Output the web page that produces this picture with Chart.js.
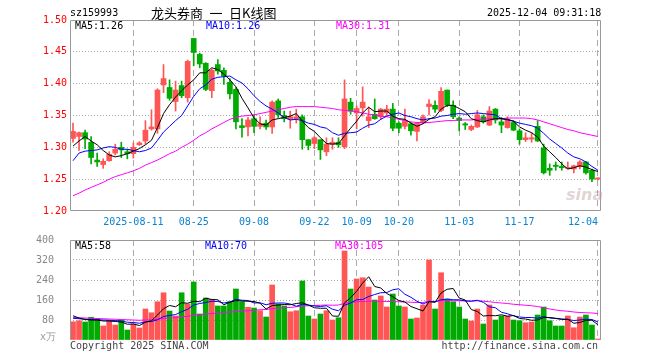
<!DOCTYPE html>
<html>
<head>
<meta charset="utf-8">
<title>龙头券商 日K线图</title>
<script src="https://cdn.jsdelivr.net/npm/chart.js@4.4.1/dist/chart.umd.min.js"></script>
<style>
  body { margin: 0; background: #fff; }
  #wrap { position: relative; width: 660px; height: 360px; overflow: hidden;
          font-family: 'DejaVu Sans Mono', monospace; font-size: 10px; color: #000; }
  #wrap canvas { position: absolute; left: 0; }
  .txt { position: absolute; white-space: pre; line-height: 12px; }
</style>
</head>
<body>
<div id="wrap">
  <canvas id="priceChart" width="660" height="230" style="top:0"></canvas>
  <canvas id="volumeChart" width="660" height="120" style="top:230px"></canvas>

  <div class="txt" style="left:70px;top:7px">sz159993</div>
  <div class="txt" style="left:151px;top:4px;font-family:'Noto Sans CJK SC',sans-serif;font-size:13px;line-height:18px">龙头券商&ensp;一&ensp;日K线图</div>
  <div class="txt" style="left:487px;top:7px">2025-12-04 09:31:18</div>

  <div class="txt" style="left:75px;top:20px">MA5:1.26</div>
  <div class="txt" style="left:206px;top:20px;color:#0000ff">MA10:1.26</div>
  <div class="txt" style="left:336px;top:20px;color:#ff00ff">MA30:1.31</div>

  <div class="txt" style="left:75px;top:240px">MA5:58</div>
  <div class="txt" style="left:205px;top:240px;color:#0000ff">MA10:70</div>
  <div class="txt" style="left:335px;top:240px;color:#ff00ff">MA30:105</div>

  <div class="txt" style="left:40px;top:331px;color:#999">x万</div>
  <div class="txt" style="left:70px;top:340px;color:#444">Copyright 2025 SINA.COM</div>
  <div class="txt" style="right:62px;top:340px;color:#444">http://finance.sina.com.cn</div>
  <div class="txt" style="left:566px;top:186px;font-family:'DejaVu Sans',sans-serif;font-size:16px;line-height:18px;font-style:italic;font-weight:bold;color:rgba(190,160,160,0.45)">sina</div>
</div>

<script>
// trading days shown (2025-07-28 .. 2025-12-04)
const dates = [
  '2025-07-28','2025-07-29','2025-07-30','2025-07-31','2025-08-01','2025-08-04','2025-08-05','2025-08-06','2025-08-07','2025-08-08',
  '2025-08-11','2025-08-12','2025-08-13','2025-08-14','2025-08-15','2025-08-18','2025-08-19','2025-08-20','2025-08-21','2025-08-22',
  '2025-08-25','2025-08-26','2025-08-27','2025-08-28','2025-08-29','2025-09-01','2025-09-02','2025-09-03','2025-09-04','2025-09-05',
  '2025-09-08','2025-09-09','2025-09-10','2025-09-11','2025-09-12','2025-09-15','2025-09-16','2025-09-17','2025-09-18','2025-09-19',
  '2025-09-22','2025-09-23','2025-09-24','2025-09-25','2025-09-26','2025-09-29','2025-09-30','2025-10-09','2025-10-10','2025-10-13',
  '2025-10-14','2025-10-15','2025-10-16','2025-10-17','2025-10-20','2025-10-21','2025-10-22','2025-10-23','2025-10-24','2025-10-27',
  '2025-10-28','2025-10-29','2025-10-30','2025-10-31','2025-11-03','2025-11-04','2025-11-05','2025-11-06','2025-11-07','2025-11-10',
  '2025-11-11','2025-11-12','2025-11-13','2025-11-14','2025-11-17','2025-11-18','2025-11-19','2025-11-20','2025-11-21','2025-11-24',
  '2025-11-25','2025-11-26','2025-11-27','2025-11-28','2025-12-01','2025-12-02','2025-12-03','2025-12-04'
];

const opens = [
  1.314,1.317,1.323,1.308,1.280,1.273,1.279,1.291,1.300,1.293,
  1.290,1.304,1.310,1.329,1.329,1.398,1.394,1.372,1.397,1.378,
  1.471,1.446,1.432,1.389,1.430,1.421,1.402,1.391,1.334,1.332,
  1.345,1.333,1.338,1.332,1.373,1.350,1.344,1.345,1.348,1.312,
  1.306,1.312,1.293,1.305,1.308,1.301,1.371,1.354,1.362,1.342,
  1.352,1.348,1.354,1.360,1.338,1.333,1.337,1.325,1.338,1.364,
  1.366,1.358,1.390,1.366,1.346,1.337,1.328,1.332,1.348,1.335,
  1.360,1.340,1.331,1.339,1.326,1.312,1.313,1.333,1.299,1.267,
  1.272,1.270,1.267,1.266,1.270,1.277,1.264,1.250
];
const highs = [
  1.338,1.324,1.327,1.317,1.291,1.282,1.293,1.305,1.308,1.297,
  1.307,1.309,1.342,1.359,1.392,1.430,1.406,1.404,1.404,1.437,
  1.471,1.448,1.433,1.423,1.438,1.425,1.408,1.394,1.345,1.347,
  1.351,1.348,1.343,1.373,1.376,1.357,1.357,1.360,1.351,1.312,
  1.317,1.312,1.315,1.315,1.315,1.406,1.377,1.365,1.395,1.363,
  1.376,1.361,1.366,1.369,1.340,1.360,1.339,1.339,1.351,1.375,
  1.373,1.394,1.390,1.373,1.348,1.339,1.335,1.358,1.351,1.364,
  1.361,1.347,1.348,1.342,1.329,1.323,1.323,1.342,1.305,1.274,
  1.277,1.277,1.277,1.272,1.279,1.278,1.266,1.252
];
const lows = [
  1.308,1.295,1.298,1.274,1.270,1.267,1.278,1.288,1.284,1.282,
  1.283,1.303,1.305,1.327,1.322,1.386,1.374,1.357,1.378,1.371,
  1.428,1.425,1.389,1.378,1.415,1.399,1.376,1.329,1.316,1.318,
  1.323,1.329,1.328,1.322,1.347,1.340,1.330,1.338,1.297,1.296,
  1.298,1.281,1.287,1.297,1.300,1.298,1.352,1.329,1.349,1.331,
  1.344,1.344,1.350,1.326,1.323,1.329,1.319,1.310,1.337,1.351,
  1.355,1.356,1.364,1.345,1.326,1.328,1.326,1.331,1.338,1.334,
  1.338,1.323,1.330,1.326,1.305,1.309,1.308,1.309,1.258,1.256,
  1.264,1.264,1.266,1.260,1.266,1.258,1.246,1.249
];
const closes = [
  1.325,1.323,1.313,1.284,1.277,1.278,1.289,1.297,1.296,1.290,
  1.300,1.307,1.327,1.332,1.390,1.408,1.377,1.390,1.381,1.435,
  1.449,1.431,1.391,1.421,1.420,1.412,1.384,1.340,1.331,1.343,
  1.333,1.337,1.332,1.371,1.351,1.345,1.348,1.348,1.312,1.303,
  1.315,1.296,1.305,1.308,1.304,1.376,1.357,1.361,1.371,1.348,
  1.345,1.360,1.360,1.330,1.330,1.342,1.326,1.338,1.348,1.368,
  1.360,1.388,1.366,1.348,1.342,1.335,1.333,1.351,1.340,1.357,
  1.343,1.335,1.344,1.327,1.312,1.315,1.315,1.310,1.260,1.264,
  1.270,1.268,1.268,1.271,1.277,1.260,1.250,1.252
];

const ma5 = [
  1.302,1.310,1.317,1.310,1.304,1.295,1.288,1.285,1.287,1.290,
  1.294,1.298,1.304,1.311,1.331,1.353,1.367,1.379,1.389,1.398,
  1.406,1.417,1.417,1.425,1.422,1.415,1.406,1.395,1.377,1.362,
  1.346,1.337,1.335,1.343,1.345,1.347,1.349,1.353,1.341,1.331,
  1.325,1.315,1.306,1.305,1.306,1.318,1.330,1.341,1.354,1.363,
  1.356,1.357,1.357,1.349,1.345,1.344,1.338,1.333,1.337,1.344,
  1.348,1.360,1.366,1.366,1.361,1.356,1.345,1.342,1.340,1.343,
  1.345,1.345,1.344,1.341,1.332,1.327,1.323,1.316,1.302,1.293,
  1.284,1.274,1.266,1.268,1.271,1.269,1.265,1.262
];
const ma10 = [
  1.279,1.291,1.294,1.295,1.296,1.299,1.301,1.300,1.297,1.297,
  1.295,1.293,1.295,1.299,1.311,1.324,1.333,1.342,1.350,1.365,
  1.380,1.392,1.398,1.407,1.410,1.411,1.412,1.406,1.401,1.392,
  1.381,1.372,1.365,1.360,1.354,1.347,1.343,1.344,1.342,1.338,
  1.336,1.332,1.330,1.323,1.319,1.322,1.323,1.324,1.330,1.335,
  1.337,1.344,1.349,1.352,1.354,1.350,1.348,1.345,1.343,1.345,
  1.346,1.349,1.350,1.352,1.353,1.352,1.353,1.354,1.353,1.352,
  1.351,1.345,1.343,1.341,1.338,1.336,1.334,1.330,1.322,1.313,
  1.306,1.299,1.291,1.285,1.282,1.277,1.270,1.264
];
const ma30 = [
  1.224,1.228,1.233,1.237,1.241,1.245,1.250,1.254,1.257,1.260,
  1.263,1.267,1.272,1.276,1.280,1.285,1.290,1.294,1.300,1.305,
  1.311,1.318,1.323,1.329,1.334,1.339,1.344,1.347,1.349,1.350,
  1.351,1.353,1.355,1.357,1.359,1.361,1.363,1.364,1.364,1.364,
  1.364,1.363,1.362,1.361,1.359,1.358,1.357,1.356,1.354,1.352,
  1.351,1.349,1.348,1.346,1.344,1.342,1.340,1.339,1.339,1.339,
  1.340,1.341,1.342,1.342,1.343,1.343,1.343,1.344,1.344,1.345,
  1.345,1.345,1.346,1.346,1.346,1.346,1.345,1.343,1.340,1.337,
  1.334,1.331,1.328,1.326,1.323,1.321,1.319,1.317
];

// volume in 万
const volumes = [
  73,77,72,91,85,56,77,60,80,40,
  64,48,124,109,153,189,116,96,189,144,
  232,104,168,163,136,136,153,204,153,131,
  128,117,92,220,144,136,113,117,236,96,
  84,104,117,80,89,356,204,244,249,212,
  160,176,132,184,136,132,84,88,140,320,
  124,269,163,153,132,84,76,124,64,140,
  80,96,96,80,77,69,72,100,132,77,
  56,56,96,49,92,100,60,4
];
const volMa5 = [
  97,88,82,80,80,76,76,74,72,63,
  64,58,71,77,100,125,138,133,149,147,
  155,153,167,162,161,141,151,158,156,155,
  154,147,124,138,140,142,141,146,149,140,
  129,127,127,96,95,149,169,195,228,253,
  214,208,186,173,158,152,134,125,116,153,
  151,188,203,206,168,160,122,114,96,98,
  97,101,95,98,86,84,79,80,90,90,
  87,84,83,67,70,79,79,61
];
const volMa10 = [
  87,85,83,82,81,80,79,78,76,71,
  70,67,73,74,81,94,98,102,113,123,
  140,146,150,155,154,148,152,163,159,158,
  148,149,141,147,148,148,144,135,143,140,
  136,134,137,123,117,139,148,161,162,174,
  182,189,190,201,205,183,171,155,144,155,
  152,161,164,161,161,156,155,159,151,133,
  129,111,105,97,92,90,90,87,94,88,
  86,82,82,78,80,83,82,72
];
const volMa30 = [
  90,89,88,87,86,85,84,83,82,81,
  80,79,80,81,83,86,88,90,93,95,
  99,101,104,106,108,110,112,114,116,117,
  119,121,122,125,127,129,130,133,136,137,
  138,139,140,139,140,147,151,153,154,155,
  155,155,154,154,153,152,151,150,150,155,
  154,158,158,157,157,157,156,157,155,153,
  150,148,146,143,141,139,137,134,129,124,
  120,117,115,112,110,109,108,106
];

// dates that get a label and a dashed line
const tickDates = ['2025-08-11','2025-08-25','2025-09-08','2025-09-22','2025-10-09','2025-10-20','2025-11-03','2025-11-17','2025-12-04'];
const tickTexts = ['2025-08-11','08-25','09-08','09-22','10-09','10-20','11-03','11-17','12-04'];

const UP = '#ff5555';
const DOWN = '#00aa00';
const GRID = '#aaaaaa';
const FRAME = '#999999';
const NONE = 'rgba(0,0,0,0)';
const MONO = { family: 'DejaVu Sans Mono', size: 10 };

const candleColors = closes.map((c, i) => c >= opens[i] ? UP : DOWN);

function isMark(i) {
  return tickDates.includes(dates[i]);
}

// solid frame round the plot area
const framePlugin = {
  id: 'frame',
  afterDraw(chart, args, opts) {
    const { ctx, chartArea: a } = chart;
    const l = Math.round(a.left) + 0.5;
    const r = Math.round(a.right) - 0.5;
    const t = Math.round(a.top) + 0.5;
    const b = Math.round(a.bottom) - 0.5;
    ctx.save();
    ctx.strokeStyle = FRAME;
    ctx.lineWidth = 1;
    ctx.beginPath();
    ctx.moveTo(l, b);
    ctx.lineTo(l, t);
    ctx.lineTo(r, t);
    ctx.lineTo(r, b);
    if (opts.bottom) ctx.lineTo(l, b);
    ctx.stroke();
    ctx.restore();
  }
};

function xScale(showLabels) {
  return {
    type: 'category',
    offset: true,
    grid: {
      offset: false,
      drawTicks: false,
      color: (ctx) => isMark(ctx.index) ? GRID : NONE
    },
    border: { display: false, dash: [6, 4] },
    ticks: {
      display: showLabels,
      autoSkip: false,
      maxRotation: 0,
      minRotation: 0,
      padding: 5,
      color: '#0a84d0',
      font: MONO,
      callback: function (value, index) {
        const k = tickDates.indexOf(dates[index]);
        if (k < 0) return '';
        // last label sits left of its line
        return index === dates.length - 1 ? tickTexts[k] + '     ' : tickTexts[k];
      }
    },
    afterFit: (s) => { s.height = showLabels ? 19 : 0; }
  };
}

function lineSet(data, color) {
  return {
    type: 'line',
    data: data,
    borderColor: color,
    borderWidth: 1,
    pointRadius: 0,
    tension: 0,
    fill: false,
    order: 0
  };
}

/* price chart */
const priceChart = new Chart(document.getElementById('priceChart').getContext('2d'), {
  type: 'bar',
  data: {
    labels: dates,
    datasets: [
      {
        data: lows.map((l, i) => [l, highs[i]]),
        backgroundColor: candleColors,
        barThickness: 1,
        grouped: false,
        order: 2
      },
      {
        data: opens.map((o, i) => [o, closes[i]]),
        backgroundColor: candleColors,
        barThickness: 5,
        minBarLength: 1,
        grouped: false,
        order: 1
      },
      lineSet(ma5, '#000000'),
      lineSet(ma10, '#0000ff'),
      lineSet(ma30, '#ff00ff')
    ]
  },
  options: {
    responsive: false,
    animation: false,
    events: [],
    layout: { padding: { top: 20, right: 59, bottom: 0, left: 0 } },
    plugins: {
      legend: { display: false },
      tooltip: { enabled: false },
      frame: { bottom: true }
    },
    scales: {
      x: xScale(true),
      y: {
        min: 1.2,
        max: 1.5,
        grid: {
          drawTicks: false,
          color: (ctx) => (ctx.index === 0 || ctx.tick.value > 1.499) ? NONE : GRID
        },
        border: { display: false, dash: [1, 2] },
        ticks: {
          stepSize: 0.05,
          padding: 3,
          color: '#ff0000',
          font: MONO,
          callback: (v) => Number(v).toFixed(2)
        },
        afterFit: (s) => { s.width = 70; }
      }
    }
  },
  plugins: [framePlugin]
});

/* volume chart */
const volumeChart = new Chart(document.getElementById('volumeChart').getContext('2d'), {
  type: 'bar',
  data: {
    labels: dates,
    datasets: [
      {
        data: volumes,
        backgroundColor: candleColors,
        barThickness: 5,
        minBarLength: 1,
        order: 1
      },
      lineSet(volMa5, '#000000'),
      lineSet(volMa10, '#0000ff'),
      lineSet(volMa30, '#ff00ff')
    ]
  },
  options: {
    responsive: false,
    animation: false,
    events: [],
    layout: { padding: { top: 10, right: 59, bottom: 10, left: 0 } },
    plugins: {
      legend: { display: false },
      tooltip: { enabled: false },
      frame: { bottom: false }
    },
    scales: {
      x: xScale(false),
      y: {
        min: 0,
        max: 400,
        grid: {
          drawTicks: false,
          color: (ctx) => (ctx.index === 0 || ctx.tick.value >= 400) ? NONE : GRID
        },
        border: { display: false, dash: [1, 2] },
        ticks: {
          stepSize: 80,
          padding: 4,
          color: '#888888',
          font: MONO,
          // two trailing spaces keep the numbers clear of the frame
          callback: (v) => v === 0 ? '' : v + '  '
        },
        afterFit: (s) => { s.width = 70; }
      }
    }
  },
  plugins: [framePlugin]
});
</script>
</body>
</html>
